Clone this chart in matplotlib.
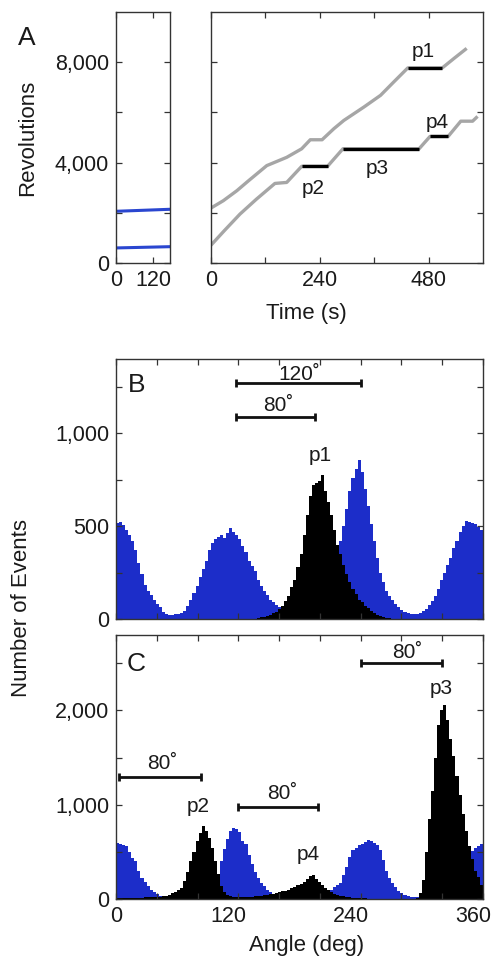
import numpy as np
import matplotlib
matplotlib.use('Agg')
import matplotlib.pyplot as plt
from matplotlib.transforms import ScaledTranslation

plt.rcParams['font.family'] = ['Liberation Sans', 'DejaVu Sans']

# ---- panel A data ----
blue_t = [0, 175]
blue_upper = [2060, 2140]
blue_lower = [600, 650]

upper_t = [0, 27, 57, 83, 123, 167, 200, 219, 245, 271, 293, 337, 374, 403, 434, 510, 536, 564]
upper_rev = [2190, 2480, 2880, 3280, 3880, 4210, 4550, 4910, 4910, 5350, 5680, 6210, 6680, 7210, 7770, 7770, 8150, 8550]
lower_t = [0, 30, 64, 100, 141, 167, 200, 257, 291, 459, 483, 523, 551, 577, 588]
lower_rev = [710, 1300, 1950, 2540, 3170, 3210, 3850, 3850, 4550, 4550, 5040, 5040, 5650, 5650, 5840]

pause_names = ['p1', 'p2', 'p3', 'p4']
pause_start = [434, 200, 291, 483]
pause_end = [510, 257, 459, 523]
pause_rev = [7770, 3850, 4550, 5040]
pause_label_t = [469, 226, 366, 499]
pause_label_rev = [8420, 2950, 3750, 5610]

# ---- panels B and C: histograms, 3 degree bins ----
edges = np.arange(0, 361, 3)

b_blue = [515, 525, 505, 480, 455, 420, 370, 300, 240, 185, 150, 130, 105, 80, 62, 40, 28, 22, 22, 26,
          28, 32, 45, 70, 100, 140, 180, 225, 270, 310, 370, 410, 430, 440, 450, 435, 465, 490, 470, 455,
          430, 395, 360, 310, 285, 260, 210, 180, 150, 130, 105, 90, 75, 65, 52, 45, 38, 32, 28, 25,
          25, 28, 32, 40, 55, 75, 100, 135, 175, 220, 270, 320, 380, 420, 500, 590, 690, 760, 810, 855,
          790, 700, 610, 510, 420, 330, 250, 200, 150, 125, 100, 80, 65, 50, 40, 32, 27, 25, 25, 30,
          42, 55, 75, 95, 125, 160, 210, 250, 290, 330, 380, 420, 470, 500, 530, 525, 515, 510, 495, 480]

b_black = [0] * 46 + [5, 10, 12, 15, 20, 30, 40, 55, 70, 95, 125, 170, 210, 280, 350, 450, 560, 660, 720, 735,
                     745, 775, 690, 630, 560, 480, 400, 350, 290, 240, 200, 160, 135, 105, 90, 72, 58, 45, 32, 24,
                     16, 10, 6, 3] + [0] * 30

c_blue = [590, 580, 575, 560, 500, 430, 400, 300, 220, 180, 140, 100, 75, 50, 35, 18, 10, 5, 0, 0,
          0, 0, 0, 0, 0, 0, 0, 0, 0, 0, 0, 20, 80, 220, 400, 530, 640, 720, 750, 740,
          710, 620, 580, 470, 370, 290, 220, 170, 140, 95, 70, 42, 25, 15, 10, 0, 0, 0, 0, 0,
          0, 0, 0, 0, 0, 0, 0, 0, 40, 75, 100, 125, 150, 170, 250, 340, 450, 520, 545, 570,
          585, 605, 625, 620, 595, 570, 520, 410, 300, 220, 170, 125, 90, 60, 40, 30, 25, 20, 20, 25,
          35, 50, 70, 100, 130, 170, 210, 260, 310, 360, 400, 440, 470, 490, 500, 505, 510, 540, 560, 580]

c_black = [15, 15, 15, 15, 15, 15, 15, 15, 15, 18, 18, 20, 20, 22, 25, 28, 35, 45, 60, 75,
           95, 120, 190, 290, 400, 500, 620, 700, 770, 720, 650, 540, 400, 260, 140, 70, 40, 30, 25, 22,
           20, 20, 20, 22, 25, 28, 30, 35, 40, 45, 50, 55, 62, 70, 80, 90, 100, 115, 130, 145,
           160, 185, 215, 240, 250, 210, 180, 150, 120, 95, 75, 55, 45, 35, 28, 22, 18, 15, 12, 10,
           8, 6, 5, 4, 3, 3, 2, 2, 1, 0, 0, 0, 0, 0, 0, 0, 0, 0, 15, 60,
           200, 500, 850, 1150, 1500, 1850, 2000, 2060, 1900, 1700, 1520, 1300, 1100, 900, 720, 560, 420, 300, 230, 150]

# brackets: (start, end, y, label, label x, label y)
b_brackets = [(118, 240, 1269, '120\u02da', 180, 1318), (118, 195, 1086, '80\u02da', 159, 1147)]
c_brackets = [(240, 320, 2503, '80\u02da', 286, 2616), (3, 83, 1299, '80\u02da', 45, 1440),
              (120, 198, 979, '80\u02da', 163, 1120)]
b_peaks = [('p1', 200, 880)]
c_peaks = [('p2', 81, 980), ('p4', 189, 468), ('p3', 319, 2229)]

BLUE = '#1c2dc9'
LINEBLUE = '#2a46d0'
GRAY = '#a6a6a6'
TXT = '#1a1a1a'
W, H = 493, 961

fig = plt.figure(figsize=(W / 100, H / 100), dpi=100)


def box(l, t, r, b):
    return [l / W, 1 - b / H, (r - l) / W, (b - t) / H]


def style(ax):
    ax.tick_params(direction='in', top=True, right=True, length=4.5, width=0.9,
                   labelsize=15.5, colors='#333333', labelcolor=TXT, pad=5)
    for s in ax.spines.values():
        s.set_linewidth(1.0)
        s.set_color('#333333')


def labels(vals, show):
    return [f'{v:,}' if v in show else '' for v in vals]


def ftext(x, y, s, **kw):
    fig.text(x / W, 1 - y / H, s, color=TXT, ha='center', va='center', **kw)


# panel A left
axL = fig.add_axes(box(116, 12, 170, 263))
axL.plot(blue_t, blue_upper, color=LINEBLUE, lw=2.2)
axL.plot(blue_t, blue_lower, color=LINEBLUE, lw=2.2)
axL.set_xlim(0, 175)
axL.set_ylim(0, 10000)
yt = list(range(0, 9000, 2000))
axL.set_yticks(yt)
axL.set_yticklabels(labels(yt, [0, 4000, 8000]))
axL.set_xticks([0, 120])
axL.set_xticklabels(['0', '120'])
style(axL)
ftext(28, 138, 'Revolutions', fontsize=16, rotation=90)
ftext(27, 38, 'A', fontsize=19)

# panel A right
axR = fig.add_axes(box(211, 12, 483, 263))
axR.plot(upper_t, upper_rev, color=GRAY, lw=2.4, solid_capstyle='butt')
axR.plot(lower_t, lower_rev, color=GRAY, lw=2.4, solid_capstyle='butt')
for name, t0, t1, r, lt, lr in zip(pause_names, pause_start, pause_end, pause_rev,
                                   pause_label_t, pause_label_rev):
    axR.plot([t0, t1], [r, r], color='black', lw=2.4, solid_capstyle='butt')
    axR.text(lt, lr, name, fontsize=15, color=TXT, ha='center', va='center')
axR.set_xlim(0, 600)
axR.set_ylim(0, 10000)
axR.set_xticks(range(0, 600, 120))
axR.set_xticklabels(labels(list(range(0, 600, 120)), [0, 240, 480]))
axR.set_yticks(yt)
axR.set_yticklabels([])
style(axR)
ftext(306, 313, 'Time (s)', fontsize=16)


def hist_panel(ax, blue, black, ymax, ystep, ylab, brackets, peaks, letter, letter_y):
    ax.stairs(blue, edges, fill=True, color=BLUE, lw=0)
    ax.stairs(black, edges, fill=True, color='black', lw=0)
    for x0, x1, y, lab, tx, ty in brackets:
        ax.errorbar((x0 + x1) / 2, y, xerr=(x1 - x0) / 2, color='#111111', lw=2,
                    capsize=3, capthick=2)
        ax.text(tx, ty, lab, fontsize=15, color=TXT, ha='center', va='center')
    for name, px, py in peaks:
        ax.text(px, py, name, fontsize=15, color=TXT, ha='center', va='center')
    ax.text(20, letter_y, letter, fontsize=19, color=TXT, ha='center', va='center')
    ax.set_xlim(0, 360)
    ax.set_ylim(0, ymax)
    ax.set_xticks(range(0, 361, 40))
    ticks = list(range(0, ymax, ystep))
    ax.set_yticks(ticks)
    ax.set_yticklabels(labels(ticks, ylab))
    style(ax)


axB = fig.add_axes(box(116, 359, 483, 619))
hist_panel(axB, b_blue, b_black, 1400, 250, [0, 500, 1000], b_brackets, b_peaks, 'B', 1259)
axB.set_xticklabels([])

axC = fig.add_axes(box(116, 635, 483, 899))
hist_panel(axC, c_blue, c_black, 2800, 500, [0, 1000, 2000], c_brackets, c_peaks, 'C', 2493)
axC.set_xticklabels(labels(list(range(0, 361, 40)), [0, 120, 240, 360]))
# the reference sets its angle labels a little left of their ticks
for lab in axC.get_xticklabels():
    if lab.get_text() not in ('', '0'):
        lab.set_transform(lab.get_transform() + ScaledTranslation(-10 / 100, 0, fig.dpi_scale_trans))
ftext(307, 946, 'Angle (deg)', fontsize=16)

ftext(22, 608, 'Number of Events', fontsize=16, rotation=90)

fig.savefig('out.png', dpi=100)
